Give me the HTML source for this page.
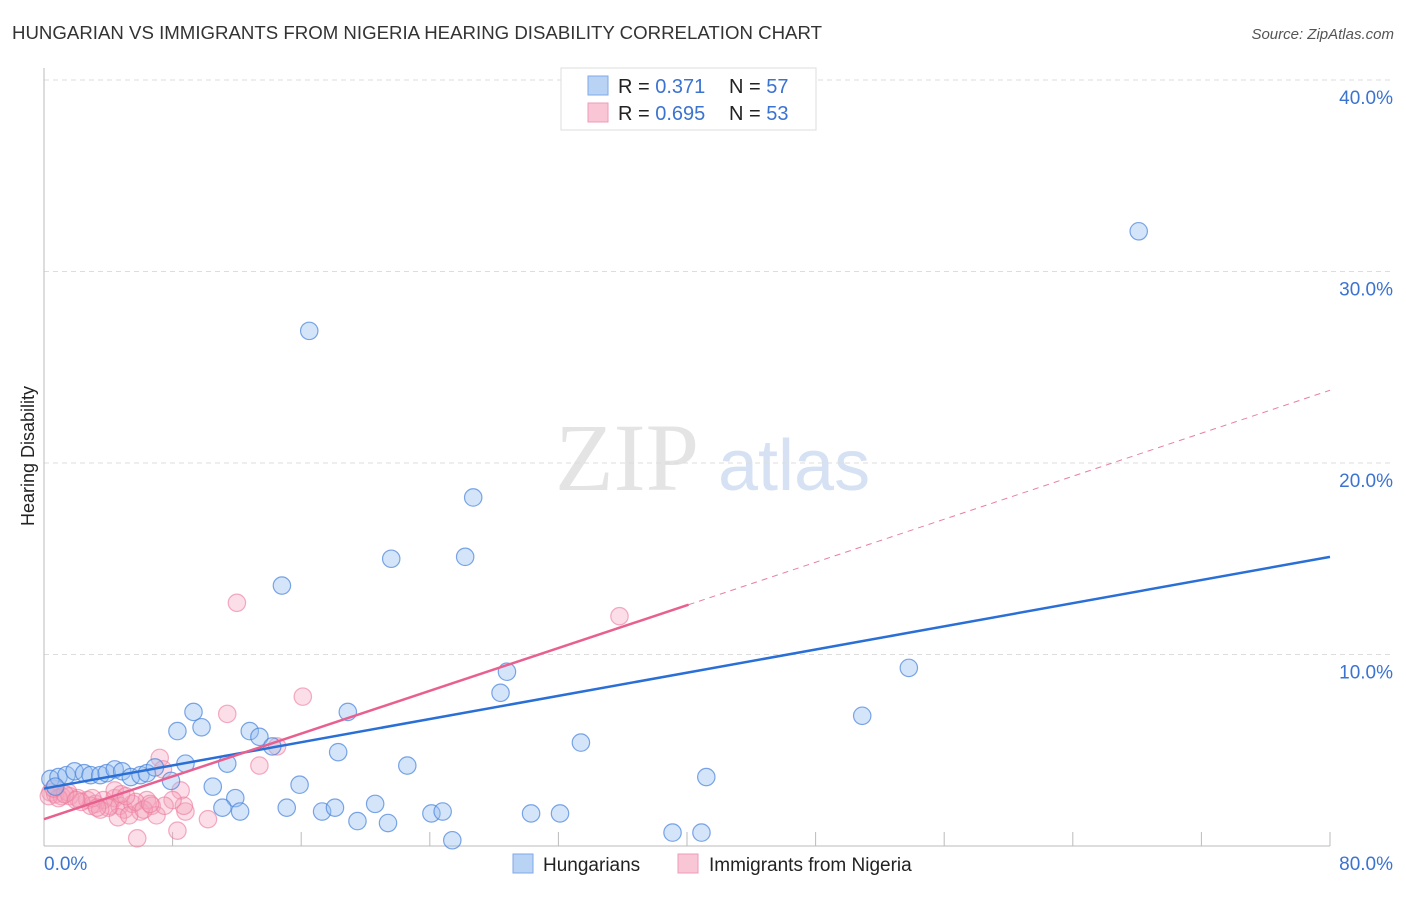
<!DOCTYPE html>
<html><head><meta charset="utf-8"><style>
body{margin:0;background:#fff;font-family:"Liberation Sans",sans-serif;}
</style></head><body>
<svg width="1406" height="892" viewBox="0 0 1406 892" xmlns="http://www.w3.org/2000/svg">
<text x="12" y="39" font-size="18" fill="#333" textLength="810" lengthAdjust="spacingAndGlyphs">HUNGARIAN VS IMMIGRANTS FROM NIGERIA HEARING DISABILITY CORRELATION CHART</text>
<text x="1394" y="39" font-size="15" fill="#555" font-style="italic" text-anchor="end">Source: ZipAtlas.com</text>
<text x="555" y="490" font-size="96" fill="#e4e4e4" font-family="Liberation Serif,serif">ZIP</text>
<text x="718" y="490" font-size="72" fill="#d6e2f3">atlas</text>
<g id="grid"></g>
<line x1="44" y1="68" x2="44" y2="846" stroke="#bbb"/>
<line x1="44" y1="846" x2="1330" y2="846" stroke="#bbb"/>
<text x="34" y="456" font-size="18" fill="#222" text-anchor="middle" transform="rotate(-90 34 456)">Hearing Disability</text>
<text x="44" y="870" font-size="19" fill="#3b73d1">0.0%</text>
<text x="1393" y="870" font-size="19" fill="#3b73d1" text-anchor="end">80.0%</text>
<g id="pts"></g>
<g id="lines"></g>
<g>
<rect x="561" y="68" width="255" height="62" fill="#fff" stroke="#ddd"/>
<rect x="588" y="76" width="20" height="19" fill="#b9d3f5" stroke="#7fa9e6"/>
<rect x="588" y="103" width="20" height="19" fill="#f9c6d6" stroke="#ee9bb5"/>
<text x="618" y="93" font-size="20" fill="#222">R = <tspan fill="#3b73d1"> 0.371</tspan><tspan x="729">N = </tspan><tspan fill="#3b73d1">57</tspan></text>
<text x="618" y="120" font-size="20" fill="#222">R = <tspan fill="#3b73d1">0.695</tspan><tspan x="729">N = </tspan><tspan fill="#3b73d1">53</tspan></text>
</g>
<g>
<rect x="513" y="854" width="20" height="19" fill="#b9d3f5" stroke="#7fa9e6"/>
<text x="543" y="871" font-size="19" fill="#222">Hungarians</text>
<rect x="678" y="854" width="20" height="19" fill="#f9c6d6" stroke="#ee9bb5"/>
<text x="709" y="871" font-size="19" fill="#222">Immigrants from Nigeria</text>
</g>
</svg>
<script>
const yTicks=[10,20,30,40];
const yTickLabels=["10.0%","20.0%","30.0%","40.0%"];
const xTicks=[8,16,24,32,40,48,56,64,72,80];
const blueX=[16.5,68.1,26.7,26.2,21.6,14.8,28.8,53.8,28.4,50.9,18.9,9.3,8.3,9.8,12.8,13.4,14.2,33.4,18.3,22.6,11.4,8.8,41.2,15.9,10.5,7.9,11.9,11.1,12.2,15.1,17.3,18.1,20.6,19.5,21.4,24.1,24.8,30.3,32.1,25.4,39.1,40.9,0.4,0.9,1.4,1.9,2.5,2.9,3.5,3.9,4.4,4.865,5.4,6.0,6.4,6.9,0.7];
const blueY=[26.9,32.1,18.2,15.1,15.0,13.6,9.1,9.3,8.0,6.8,7.0,7.0,6.0,6.2,6.0,5.7,5.2,5.4,4.9,4.2,4.3,4.3,3.6,3.2,3.1,3.4,2.5,2.0,1.8,2.0,1.8,2.0,2.2,1.3,1.2,1.7,1.8,1.7,1.7,0.3,0.7,0.7,3.5,3.6,3.7,3.9,3.8,3.7,3.7,3.8,4.0,3.9,3.6,3.7,3.8,4.1,3.1];
const pinkX=[12.0,35.8,16.1,11.4,13.4,14.5,7.2,7.4,8.5,8.3,5.8,10.2,8.8,8.7,8.0,0.4,0.7,1.1,1.6,2.1,2.7,3.2,3.7,4.1,4.4,4.7,5.0,5.5,6.0,6.4,6.7,7.0,7.5,4.6,5.3,4.0,2.9,3.5,4.4,1.5,0.3,0.9,1.3,2.3,3.0,4.8,5.7,6.2,2.0,3.3,5.1,6.6,0.6];
const pinkY=[12.7,12.0,7.8,6.9,4.2,5.2,4.6,4.0,2.9,0.8,0.4,1.4,1.8,2.1,2.4,2.8,2.7,2.6,2.6,2.5,2.4,2.2,2.4,2.1,2.5,2.1,1.9,2.2,1.8,2.4,2.1,1.6,2.1,1.5,1.6,2.0,2.1,1.9,2.9,2.8,2.6,2.5,2.7,2.3,2.5,2.7,2.3,1.9,2.4,2.0,2.6,2.2,3.0];
const blueLine=[[0,3.0],[80,15.1]];
const pinkLine=[[0,1.4],[40.1,12.6]];
const pinkDash=[[40.1,12.6],[80,23.8]];
const NS="http://www.w3.org/2000/svg";
const sx=v=>44+v*16.075, sy=v=>846-v*19.15;
function mk(t,a,p){const e=document.createElementNS(NS,t);for(const k in a)e.setAttribute(k,a[k]);p.appendChild(e);return e;}
const grid=document.getElementById('grid');
yTicks.forEach((t,i)=>{
 const l=mk('line',{x1:44,x2:1394,y1:sy(t),y2:sy(t),stroke:'#ddd','stroke-dasharray':'5,4'},grid);
 
 
 const tx=mk('text',{x:1393,y:sy(t)+24,'font-size':19,fill:'#3b73d1','text-anchor':'end'},grid);
 tx.textContent=yTickLabels[i];
 
 
});
xTicks.forEach(t=>{
 const l=mk('line',{x1:sx(t),x2:sx(t),y1:832,y2:846,stroke:'#bbb'},grid);
 
 
});
const pts=document.getElementById('pts');
pinkX.forEach((x,i)=>{
 const c=mk('circle',{cx:sx(x),cy:sy(pinkY[i]),r:8.7,fill:'rgba(244,160,185,0.35)',stroke:'rgba(236,120,155,0.6)','stroke-width':1.2},pts);
 
 
});
blueX.forEach((x,i)=>{
 const c=mk('circle',{cx:sx(x),cy:sy(blueY[i]),r:8.7,fill:'rgba(150,190,240,0.4)',stroke:'rgba(70,130,220,0.7)','stroke-width':1.2},pts);
 
 
});
const lines=document.getElementById('lines');
const d=mk('line',{x1:sx(pinkDash[0][0]),y1:sy(pinkDash[0][1]),x2:sx(pinkDash[1][0]),y2:sy(pinkDash[1][1]),stroke:'#e87fa0','stroke-dasharray':'6,5','stroke-width':1},lines);


const b=mk('line',{x1:sx(blueLine[0][0]),y1:sy(blueLine[0][1]),x2:sx(blueLine[1][0]),y2:sy(blueLine[1][1]),stroke:'#2a6fd6','stroke-width':2.5},lines);


const p=mk('line',{x1:sx(pinkLine[0][0]),y1:sy(pinkLine[0][1]),x2:sx(pinkLine[1][0]),y2:sy(pinkLine[1][1]),stroke:'#e8608f','stroke-width':2.5},lines);


</script>
</body></html>
